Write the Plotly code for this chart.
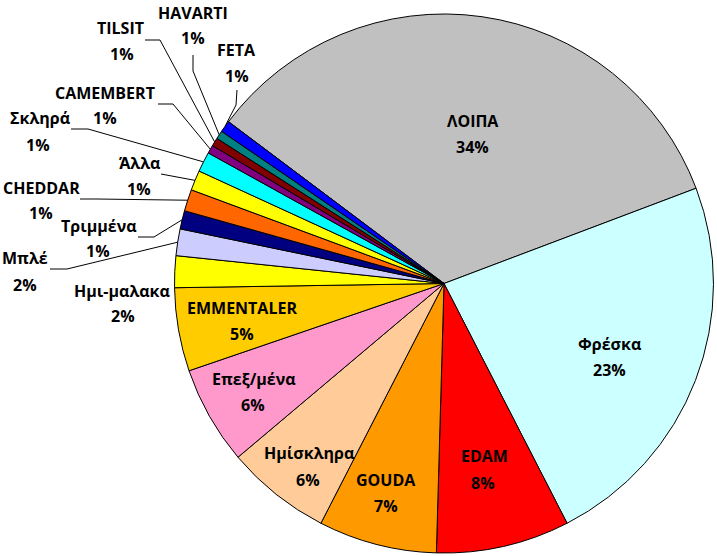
import math
import plotly.graph_objects as go

W, H = 717, 556

# slices, clockwise starting with ΛΟΙΠΑ
names = ['ΛΟΙΠΑ', 'Φρέσκα', 'EDAM', 'GOUDA', 'Ημίσκληρα', 'Επεξ/μένα', 'EMMENTALER',
         'Ημι-μαλακα', 'Μπλέ', 'Τριμμένα', 'CHEDDAR', 'Άλλα', 'Σκληρά', 'CAMEMBERT',
         'TILSIT', 'HAVARTI', 'FETA']
shares = [34.0, 23.2, 8.0, 7.1, 6.3, 5.9, 5.0, 1.9, 1.6, 1.1, 1.3, 1.2, 1.2, 0.5, 0.5, 0.5, 0.7]
pct_labels = ['34%', '23%', '8%', '7%', '6%', '6%', '5%', '2%', '2%', '1%', '1%', '1%',
              '1%', '1%', '1%', '1%', '1%']
colors = ['#C0C0C0', '#CCFFFF', '#FF0000', '#FF9900', '#FFCC99', '#FF99CC', '#FFCC00',
          '#FFFF00', '#CCCCFF', '#000080', '#FF6600', '#FFFF00', '#00FFFF', '#800080',
          '#800000', '#008080', '#0000FF']

# pie geometry (pixels)
cx, cy, R = 444, 283.5, 269.5
rotation = -53.1

# label placement: (name x, name y, pct x, pct y) in pixels
label_pos = {
    'ΛΟΙΠΑ': (473, 121, 472, 147),
    'Φρέσκα': (609, 344, 609, 370),
    'EDAM': (484, 456, 483, 483),
    'GOUDA': (386, 480, 386, 506),
    'Ημίσκληρα': (309, 453, 308, 480),
    'Επεξ/μένα': (254, 379, 253, 405),
    'EMMENTALER': (242, 308, 242, 334),
    'Ημι-μαλακα': (122, 291, 123, 316),
    'Μπλέ': (25, 258, 25, 285),
    'Τριμμένα': (99, 226, 98, 251),
    'CHEDDAR': (41, 188, 41, 213),
    'Άλλα': (139, 163, 139, 189),
    'Σκληρά': (40, 118, 38, 145),
    'CAMEMBERT': (105, 93, 105, 118),
    'TILSIT': (120, 28, 122, 54),
    'HAVARTI': (193, 13, 193, 38),
    'FETA': (236, 50, 237, 76),
}

# leader line start points near the outside labels
leaders = {
    'FETA': [(237, 90), (236, 105)],
    'HAVARTI': [(193, 55), (193, 71)],
    'TILSIT': [(145, 40), (160, 40)],
    'CAMEMBERT': [(158, 104), (173, 104)],
    'Σκληρά': [(71, 129), (88, 129)],
    'Άλλα': [(161, 174)],
    'CHEDDAR': [(80, 199), (97, 199)],
    'Τριμμένα': [(138, 237), (154, 237)],
    'Μπλέ': [(50, 269), (67, 269)],
}


def px(x):
    return x / W


def py(y):
    return 1 - y / H


fig = go.Figure(go.Pie(
    labels=names,
    values=shares,
    sort=False,
    direction='clockwise',
    rotation=rotation,
    marker=dict(colors=colors, line=dict(color='black', width=1)),
    textinfo='none',
    hoverinfo='label+percent',
    domain=dict(x=[px(cx - R), px(cx + R)], y=[py(cy + R), py(cy - R)]),
))

font = dict(family='Open Sans, sans-serif', size=16, color='black')
for name, pct in zip(names, pct_labels):
    nx, ny, qx, qy = label_pos[name]
    fig.add_annotation(x=px(nx), y=py(ny), xref='paper', yref='paper', text=f'<b>{name}</b>',
                       showarrow=False, font=font, xanchor='center', yanchor='middle')
    fig.add_annotation(x=px(qx), y=py(qy), xref='paper', yref='paper', text=f'<b>{pct}</b>',
                       showarrow=False, font=font, xanchor='center', yanchor='middle')

# leader lines end at the middle of each small slice's arc
total = sum(shares)
cum = 0
for name, v in zip(names, shares):
    mid = math.radians(rotation + 360 * (cum + v / 2) / total)
    cum += v
    if name not in leaders:
        continue
    pts = leaders[name] + [(cx + R * math.sin(mid), cy - R * math.cos(mid))]
    for (x0, y0), (x1, y1) in zip(pts[:-1], pts[1:]):
        fig.add_shape(type='line', xref='paper', yref='paper',
                      x0=px(x0), y0=py(y0), x1=px(x1), y1=py(y1),
                      line=dict(color='black', width=1))

fig.update_layout(
    width=W, height=H,
    margin=dict(l=0, r=0, t=0, b=0),
    showlegend=False,
    paper_bgcolor='white',
    plot_bgcolor='white',
)

# drop the browser's default body margin so the figure sits at the window origin
fig.write_html("out.html", config={'displayModeBar': False},
               post_script="document.body.style.margin='0';")
